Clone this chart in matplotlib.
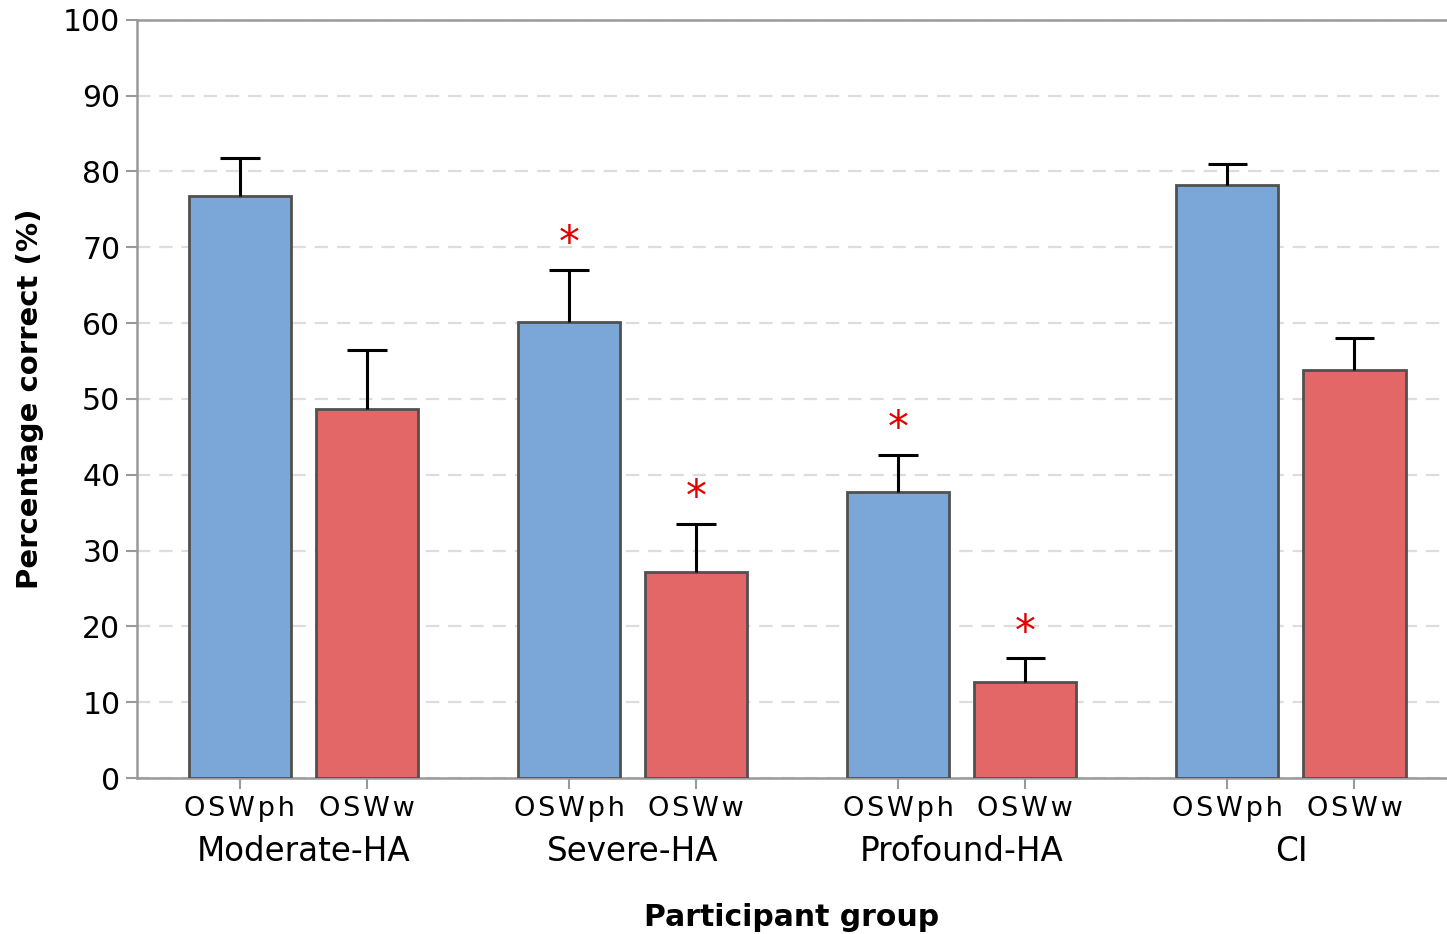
import numpy as np
import matplotlib
matplotlib.use("Agg")
import matplotlib.pyplot as plt
import matplotlib.transforms as mtransforms

groups = ['Moderate-HA', 'Severe-HA', 'Profound-HA', 'CI']
conditions = ['OSWph', 'OSWw']
osw_ph = [76.8, 60.2, 37.7, 78.2]
osw_ph_err = [5.0, 6.8, 4.9, 2.8]
osw_w = [48.7, 27.2, 12.7, 53.8]
osw_w_err = [7.8, 6.3, 3.1, 4.2]
ph_star = [False, True, True, False]
w_star = [False, True, True, False]

plt.rcParams['font.family'] = ['DejaVu Sans']

fig = plt.figure(figsize=(14.47, 9.34), dpi=100)
ax = fig.add_axes([0.0947, 0.167, 0.9053, 0.8119])

x = np.arange(len(groups))
off = 0.193
width = 0.31
cap = 0.06
blue = '#7BA6D8'
red = '#E46767'
edge = '#505050'

ax.bar(x - off, osw_ph, width, color=blue, edgecolor=edge, linewidth=2, zorder=3)
ax.bar(x + off, osw_w, width, color=red, edgecolor=edge, linewidth=2, zorder=3)

# error bars (upper only)
for xs, vals, errs in [(x - off, osw_ph, osw_ph_err), (x + off, osw_w, osw_w_err)]:
    tops = np.array(vals) + np.array(errs)
    ax.vlines(xs, vals, tops, color='black', linewidth=2.2, zorder=4)
    ax.hlines(tops, xs - cap, xs + cap, color='black', linewidth=2.2, zorder=4)

# significance stars
for i in range(len(groups)):
    if ph_star[i]:
        ax.text(x[i] - off, osw_ph[i] + osw_ph_err[i] + 0.6, '*', color='#E00000',
                fontsize=30, ha='center', va='bottom', zorder=5)
    if w_star[i]:
        ax.text(x[i] + off, osw_w[i] + osw_w_err[i] + 0.6, '*', color='#E00000',
                fontsize=30, ha='center', va='bottom', zorder=5)

ax.set_ylim(0, 100)
ax.set_xlim(-0.505, 3.474)
ax.set_yticks(range(0, 101, 10))
ax.yaxis.grid(True, linestyle=(0, (6, 4)), color='#dddddd', linewidth=1.6, zorder=0)
ax.set_axisbelow(True)

ticks = np.concatenate([x - off, x + off])
ticks.sort()
spaced = ['\u200a'.join(c) for c in conditions]
ax.set_xticks(ticks)
ax.set_xticklabels(spaced * len(groups), fontsize=19.5)
ax.tick_params(axis='y', labelsize=21.5, length=8, width=1.5, color='#999999', pad=4)
ax.tick_params(axis='x', length=8, width=1.5, color='#999999', pad=5)

for s in ['left', 'top', 'bottom']:
    ax.spines[s].set_color('#999999')
    ax.spines[s].set_linewidth(1.8)
ax.spines['right'].set_visible(False)

trans = mtransforms.blended_transform_factory(ax.transData, ax.transAxes)
for i, g in enumerate(groups):
    ax.text(x[i], -0.097, g, transform=trans, ha='center', va='center', fontsize=23.5)

ax.set_xlabel('Participant group', fontsize=21.5, fontweight='bold', labelpad=58)
ax.set_ylabel('Percentage correct (%)', fontsize=21, fontweight='bold', labelpad=14)

fig.savefig('out.png', dpi=100)
